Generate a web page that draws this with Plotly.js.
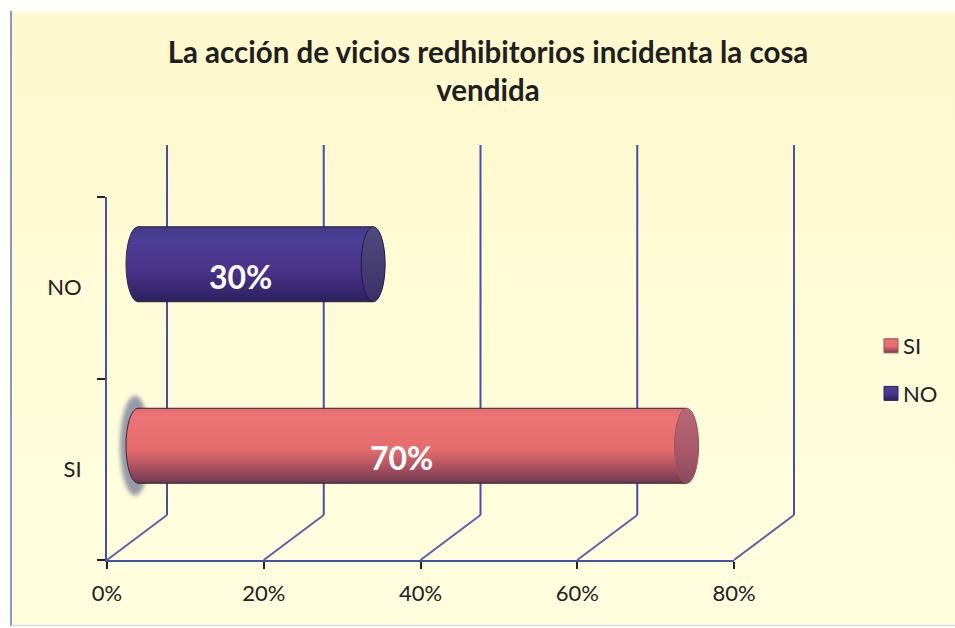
<!DOCTYPE html>
<html>
<head>
<meta charset="utf-8">
<script src="https://cdn.plot.ly/plotly-3.0.1.min.js"></script>
<style>html,body{margin:0;padding:0;background:#fff;overflow:hidden}</style>
</head>
<body>
<div id="chart" style="width:955px;height:628px"></div>
<script>
const categories = ['SI', 'NO'];
const seriesNames = ['SI', 'NO'];
const siValues = [0.7];
const noValues = [0.3];
const tickValues = [0, 0.2, 0.4, 0.6, 0.8];
const titleText = 'La acción de vicios redhibitorios incidenta la cosa<br>vendida';

const W = 955, H = 628;
const L = 107, R = 734, T = 197, B = 560;
const pw = R - L, ph = B - T;
const xMax = 0.8;
const pxPerUnit = pw / xMax;
const catPx = ph / categories.length;
const px2x = p => (p - L) / pw;
const py2y = p => (B - p) / ph;

// 3D illusion: depth of the back wall and half-depth for the cylinders
const depthX = 60 / pxPerUnit;
const barShiftX = 31 / pxPerUnit;
const barShiftY = 23.5 / catPx;
const barW = 0.413;

const WALL = '#4650a6';
const wallLine = (x0, y0, x1, y1, color) => ({
  type: 'line', layer: 'below', xref: 'paper', yref: 'paper',
  x0: x0 / xMax, x1: x1 / xMax, y0, y1,
  line: {color: color || WALL, width: 2}
});

const shapes = [];
const tag = {};
function add(name, s) { tag[name] = shapes.length; shapes.push(s); }

add('panel', {type: 'rect', layer: 'below', xref: 'paper', yref: 'paper',
  x0: px2x(10), x1: px2x(W + 2), y0: py2y(624), y1: py2y(8),
  fillcolor: '#fefdd8', line: {width: 0}});
add('panelLeft', {type: 'line', layer: 'below', xref: 'paper', yref: 'paper',
  x0: px2x(11), x1: px2x(11), y0: py2y(626), y1: py2y(11), line: {color: '#8f97c0', width: 2}});
add('panelBottom', {type: 'line', layer: 'below', xref: 'paper', yref: 'paper',
  x0: px2x(11), x1: px2x(W + 2), y0: py2y(625.5), y1: py2y(625.5), line: {color: '#d9d9cc', width: 1.5}});

tickValues.forEach(v => {
  const bx = v + depthX;
  shapes.push(wallLine(v, 0, bx, py2y(515), '#5a62ac'));
  shapes.push(wallLine(bx, py2y(515), bx, py2y(145)));
});

// Cylinders
function cylinder(name, idx, value, capLine) {
  const y0 = idx - barW / 2, y1 = idx + barW / 2;
  add(name + 'Start', {type: 'circle', layer: 'below', xref: 'x2', yref: 'y2', xsizemode: 'pixel',
    xanchor: 0, x0: -12, x1: 12, y0, y1, fillcolor: '#888', line: {color: '#3a2a3a', width: 1}});
  ['top', 'bot'].forEach(k => {
    const y = k === 'top' ? y1 : y0;
    shapes.push({type: 'line', layer: 'above', xref: 'x2', yref: 'y2', x0: 0, x1: value, y0: y, y1: y,
      line: {color: '#2f2030', width: 1}});
  });
  add(name + 'Cap', {type: 'circle', layer: 'above', xref: 'x2', yref: 'y2', xsizemode: 'pixel',
    xanchor: value, x0: -12, x1: 12, y0, y1, fillcolor: '#777', line: {color: capLine, width: 1}});
}
add('shadow', {type: 'circle', layer: 'below', xref: 'x2', yref: 'y2', xsizemode: 'pixel',
  xanchor: 0, x0: -18, x1: 12, y0: 0 - 0.275, y1: 0 + 0.275,
  fillcolor: '#959aa6', line: {width: 0}});
cylinder('si', categories.indexOf('SI'), siValues[0], '#b04a5a');
cylinder('no', categories.indexOf('NO'), noValues[0], '#1d1a45');

const barTrace = (name, y, x) => ({
  type: 'bar', orientation: 'h', name, y, x, xaxis: 'x2', yaxis: 'y2', width: barW,
  legendgroup: name, marker: {color: name === 'SI' ? '#e8706e' : '#4d3589', line: {width: 0}},
  hoverinfo: 'x+y'
});

const traces = [
  {type: 'scatter', mode: 'none', x: categories.map(() => 0), y: categories,
   showlegend: false, hoverinfo: 'skip'},
  barTrace(seriesNames[0], ['SI'], siValues),
  barTrace(seriesNames[1], ['NO'], noValues)
];

const label = (cat, v, xshift) => ({
  xref: 'x2', yref: 'y2', x: v / 2, y: cat, text: Math.round(v * 100) + '%',
  showarrow: false, xshift, yshift: -12,
  font: {family: 'Lato, sans-serif', size: 32, color: '#ffffff', weight: 700}
});

const axisFont = {family: 'Lato, sans-serif', size: 22, color: '#222222'};

const layout = {
  width: W, height: H,
  margin: {l: L, r: W - R, t: T, b: H - B, pad: 0},
  paper_bgcolor: '#ffffff',
  plot_bgcolor: 'rgba(0,0,0,0)',
  barmode: 'overlay',
  showlegend: true,
  title: {
    text: titleText, x: 488 / W, xanchor: 'center', y: 1 - 63 / H, yanchor: 'top',
    font: {family: 'Lato, sans-serif', size: 29.5, color: '#1f1f1f', weight: 700}
  },
  xaxis: {
    range: [0, xMax], tickmode: 'array', tickvals: tickValues, tickformat: '.0%',
    showgrid: false, zeroline: false, showline: true, linecolor: WALL, linewidth: 2,
    ticks: 'outside', ticklen: 7, tickcolor: '#222222', tickwidth: 1.5,
    tickfont: axisFont, ticklabelstandoff: 6
  },
  yaxis: {
    type: 'category', categoryorder: 'array', categoryarray: categories, range: [-0.5, 1.5],
    tickson: 'boundaries', showgrid: false, zeroline: false,
    showline: true, linecolor: WALL, linewidth: 2,
    ticks: 'outside', ticklen: 8, tickcolor: '#222222', tickwidth: 1.5,
    tickfont: axisFont, ticklabelstandoff: 19
  },
  xaxis2: {
    overlaying: 'x', side: 'bottom', anchor: 'y2',
    range: [-barShiftX, xMax - barShiftX], visible: false
  },
  yaxis2: {
    overlaying: 'y', anchor: 'x2', type: 'category', categoryorder: 'array', categoryarray: categories,
    range: [-0.5 - barShiftY, 1.5 - barShiftY], visible: false
  },
  legend: {
    x: px2x(863), xanchor: 'left', y: py2y(325), yanchor: 'top',
    bgcolor: 'rgba(0,0,0,0)', font: axisFont, traceorder: 'grouped', tracegroupgap: 16
  },
  shapes,
  annotations: [label('SI', siValues[0], -11), label('NO', noValues[0], -15)]
};

function decorate(gd) {
  const svg = gd.querySelector('svg.main-svg');
  const NS = 'http://www.w3.org/2000/svg';
  const defs = svg.querySelector('defs') || svg.insertBefore(document.createElementNS(NS, 'defs'), svg.firstChild);
  const grad = (id, stops) => {
    const g = document.createElementNS(NS, 'linearGradient');
    g.setAttribute('id', id);
    g.setAttribute('x1', '0'); g.setAttribute('y1', '0');
    g.setAttribute('x2', '0'); g.setAttribute('y2', '1');
    stops.forEach(([o, c]) => {
      const s = document.createElementNS(NS, 'stop');
      s.setAttribute('offset', o); s.setAttribute('stop-color', c);
      g.appendChild(s);
    });
    defs.appendChild(g);
  };
  grad('gSI', [[0, '#e56c6c'], [0.12, '#ec7474'], [0.55, '#e46c6c'], [0.8, '#a85060'], [1, '#6f3a50']]);
  grad('gNO', [[0, '#3f3a86'], [0.15, '#4a3f95'], [0.55, '#4c348c'], [0.85, '#36286f'], [1, '#282260']]);
  grad('gSICap', [[0, '#b56a78'], [0.6, '#a9586c'], [1, '#854a5e']]);
  grad('gNOCap', [[0, '#4f4a80'], [0.6, '#443c70'], [1, '#3a2f66']]);
  grad('gPanel', [[0, '#ffffff'], [0.012, '#fef8ce'], [0.2, '#fef9d0'], [0.5, '#fefcd8'], [1, '#fefedf']]);

  const f = document.createElementNS(NS, 'filter');
  f.setAttribute('id', 'blur');
  f.setAttribute('x', '-50%'); f.setAttribute('y', '-50%');
  f.setAttribute('width', '200%'); f.setAttribute('height', '200%');
  const b = document.createElementNS(NS, 'feGaussianBlur');
  b.setAttribute('stdDeviation', '2');
  f.appendChild(b); defs.appendChild(f);

  const shape = name => gd.querySelector('.shapelayer path[data-index="' + tag[name] + '"]');
  const fill = (el, id) => { if (el) el.style.fill = 'url(#' + id + ')'; };
  fill(shape('panel'), 'gPanel');
  fill(shape('siStart'), 'gSI');
  fill(shape('noStart'), 'gNO');
  fill(shape('siCap'), 'gSICap');
  fill(shape('noCap'), 'gNOCap');
  const sh = shape('shadow');
  if (sh) sh.style.filter = 'url(#blur)';

  const bars = gd.querySelectorAll('.barlayer .trace');
  bars.forEach((t, i) => t.querySelectorAll('path').forEach(p => fill(p, i === 0 ? 'gSI' : 'gNO')));
  gd.querySelectorAll('.legend .traces').forEach((t, i) => {
    const pts = t.querySelector('.legendpoints');
    if (pts) pts.setAttribute('transform', 'translate(8,0)');
    t.querySelectorAll('.legendpoints path').forEach(p => {
      p.setAttribute('d', 'M7,7H-7V-7H7Z');
      fill(p, i === 0 ? 'gSI' : 'gNO');
      p.style.stroke = i === 0 ? '#9a4a5a' : '#2a2560';
      p.style.strokeWidth = '1px';
    });
  });
}

Plotly.newPlot('chart', traces, layout, {displayModeBar: false, responsive: false})
  .then(decorate);
</script>
</body>
</html>
